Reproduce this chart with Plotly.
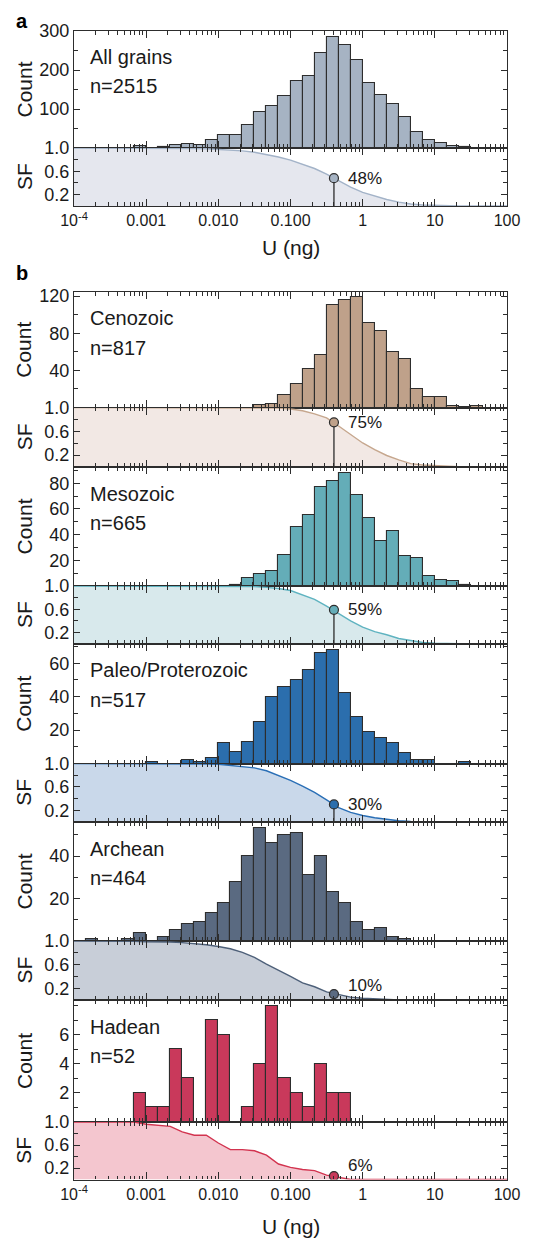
import numpy as np
import plotly.graph_objects as go

W, H = 545, 1240          # target picture size
PAGE_MARGIN = 8           # default body margin of the html page
FW, FH = W - 2 * PAGE_MARGIN, H - PAGE_MARGIN

# ---------------- data ----------------
bin_start_log10 = -4          # first bin edge = 1e-4 ng
bins_per_decade = 6
threshold_ng = 0.4

names = ["All grains", "Cenozoic", "Mesozoic", "Paleo/Proterozoic", "Archean", "Hadean"]
n_grains = [2515, 817, 665, 517, 464, 52]
sf_at_threshold_pct = [48, 75, 59, 30, 10, 6]

# histogram counts; first_bin = index of first listed bin (bin i spans 10^(-4+i/6)..10^(-4+(i+1)/6))
all_first = 5
all_counts = [5, 1, 2, 8, 11, 8, 21, 34, 34, 58, 92, 108, 134, 173, 184, 243, 284, 264,
              225, 166, 136, 114, 80, 42, 20, 14, 5, 2, 1]
ceno_first = 15
ceno_counts = [3, 4, 13, 25, 42, 57, 111, 116, 119, 91, 82, 60, 52, 20, 11, 11, 2, 1, 2]
meso_first = 13
meso_counts = [1, 6, 9, 12, 24, 46, 55, 77, 82, 88, 71, 53, 35, 43, 23, 22, 8, 5, 4, 1]
paleo_first = 6
paleo_counts = [1, 0, 0, 2, 1, 3, 12, 7, 13, 25, 40, 46, 50, 56, 66, 68, 42, 28, 19, 15,
                12, 6, 2, 2, 0, 0, 1]
arch_first = 1
arch_counts = [1, 0, 0, 1, 4, 0, 2, 5, 8, 9, 13, 18, 28, 40, 53, 46, 50, 51, 31, 40, 23,
               18, 9, 5, 6, 2, 1]
had_first = 5
had_counts = [2, 1, 1, 5, 3, 0, 7, 6, 0, 1, 4, 8, 3, 2, 1, 4, 2, 2]

firsts = [all_first, ceno_first, meso_first, paleo_first, arch_first, had_first]
counts_list = [all_counts, ceno_counts, meso_counts, paleo_counts, arch_counts, had_counts]

x_tick_vals = [1e-4, 1e-3, 1e-2, 1e-1, 1, 10, 100]
x_tick_text = ["10<sup>-4</sup>", "0.001", "0.010", "0.100", "1", "10", "100"]

count_tickvals = [[100, 200, 300], [40, 80, 120], [20, 40, 60, 80], [20, 40, 60], [20, 40], [2, 4, 6]]
count_minor = [50, 20, 10, 10, 10, 1]
count_top = [300, 124.5, 92.6, 71.5, 56, 8.4]

# ---------------- style ----------------
bar_colors = ["#a6b3c3", "#bfa18a", "#64adb8", "#2b6ead", "#5a6a81", "#c9395b"]
fill_colors = ["#e5e7ee", "#f2e8e4", "#d8e9ec", "#c9d8ea", "#c8ced8", "#f4c6cf"]
line_colors = ["#a3b3c8", "#c6a78e", "#5fb3c0", "#2a6fb6", "#4e6079", "#d2334f"]
frame = "#2d2d2d"
txt = "#1a1a1a"
FONT = "Liberation Sans, Arial, Helvetica, sans-serif"

# pixel layout in the target picture (top of count, boundary, bottom of SF)
count_tops = [31, 292, 467, 644, 822, 1000]
count_bots = [148, 407.5, 586, 763.5, 941, 1122]
sf_bots = [206, 467, 644, 822, 1000, 1179.5]
X_L, X_R = 74, 507


def px(p):
    return (p - PAGE_MARGIN) / FW


def py(p):
    return 1 - (p - PAGE_MARGIN) / FH


fig = go.Figure()
lx_thr = np.log10(threshold_ng)
maj = [np.log10(v) for v in x_tick_vals]
minor_x = [d + np.log10(k) for d in range(-4, 2) for k in range(2, 10)]

annotations = []
for p in range(6):
    kc = 2 * p + 1
    ks = 2 * p + 2
    first = firsts[p]
    cnt = np.array(counts_list[p], dtype=float)
    idx = np.arange(first, first + len(cnt))
    centers = bin_start_log10 + (idx + 0.5) / bins_per_decade

    fig.add_trace(go.Bar(
        x=centers, y=cnt, width=1.0 / bins_per_decade,
        marker=dict(color=bar_colors[p], line=dict(color=frame, width=1.1)),
        xaxis=f"x{kc}", yaxis=f"y{kc}", showlegend=False, hoverinfo="skip"))

    # survival function from histogram at bin edges
    edges = bin_start_log10 + np.arange(first, first + len(cnt) + 1) / bins_per_decade
    sf = 1 - np.concatenate([[0], np.cumsum(cnt)]) / cnt.sum()
    xs = np.concatenate([[-4], edges, [2]])
    ys = np.concatenate([[1.0], sf, [0.0]])
    fig.add_trace(go.Scatter(
        x=xs, y=ys, mode="lines", line=dict(color=line_colors[p], width=1.4),
        fill="tozeroy", fillcolor=fill_colors[p],
        xaxis=f"x{ks}", yaxis=f"y{ks}", showlegend=False, hoverinfo="skip"))

    sfv = sf_at_threshold_pct[p] / 100.0
    fig.add_trace(go.Scatter(
        x=[lx_thr, lx_thr], y=[0, sfv], mode="lines",
        line=dict(color=frame, width=1.3),
        xaxis=f"x{ks}", yaxis=f"y{ks}", showlegend=False, hoverinfo="skip"))
    fig.add_trace(go.Scatter(
        x=[lx_thr], y=[sfv], mode="markers",
        marker=dict(size=9, color=bar_colors[p], line=dict(color=frame, width=1.2)),
        xaxis=f"x{ks}", yaxis=f"y{ks}", showlegend=False, hoverinfo="skip"))

    annotations.append(dict(
        x=lx_thr, y=max(sfv, 0.25), xref=f"x{ks}", yref=f"y{ks}",
        text=f"{sf_at_threshold_pct[p]}%", showarrow=False, xanchor="left",
        yanchor="middle", xshift=12, font=dict(size=17, color=txt, family=FONT)))

    # panel labels
    annotations.append(dict(
        x=px(88), y=py(count_tops[p] + 26.5), xref="paper", yref="paper",
        text=names[p], showarrow=False, xanchor="left", yanchor="middle",
        font=dict(size=20, color=txt, family=FONT)))
    annotations.append(dict(
        x=px(88), y=py(count_tops[p] + 55.5), xref="paper", yref="paper",
        text=f"n={n_grains[p]}", showarrow=False, xanchor="left", yanchor="middle",
        font=dict(size=20, color=txt, family=FONT)))

    # axis titles
    annotations.append(dict(
        x=px(24), y=py((count_tops[p] + count_bots[p]) / 2), xref="paper", yref="paper",
        text="Count", textangle=-90, showarrow=False, xanchor="center", yanchor="middle",
        font=dict(size=21, color=txt, family=FONT)))
    annotations.append(dict(
        x=px(24), y=py((count_bots[p] + sf_bots[p]) / 2), xref="paper", yref="paper",
        text="SF", textangle=-90, showarrow=False, xanchor="center", yanchor="middle",
        font=dict(size=21, color=txt, family=FONT)))

    xcommon = dict(
        domain=[px(X_L), px(X_R)], range=[-4, 2], showline=True, mirror="allticks",
        linecolor=frame, linewidth=1.3, ticks="inside", ticklen=7, tickwidth=1.2,
        tickcolor=frame, tickvals=maj, ticktext=x_tick_text, showgrid=False,
        zeroline=False, automargin=False, tickfont=dict(size=16, color=txt, family=FONT),
        minor=dict(tickvals=minor_x, ticks="inside", ticklen=3.5, tickwidth=1,
                   tickcolor=frame, showgrid=False))
    fig.layout[f"xaxis{kc}"] = dict(xcommon, anchor=f"y{kc}", showticklabels=False)
    fig.layout[f"xaxis{ks}"] = dict(xcommon, anchor=f"y{ks}",
                                    showticklabels=(p in (0, 5)))

    ycommon = dict(
        showline=True, mirror="allticks", linecolor=frame, linewidth=1.3,
        ticks="inside", ticklen=6, tickwidth=1.2, tickcolor=frame, showgrid=False,
        zeroline=False, automargin=False, tickfont=dict(size=18, color=txt, family=FONT))
    cmin = [v for v in np.arange(count_minor[p], count_top[p], count_minor[p])]
    fig.layout[f"yaxis{kc}"] = dict(
        ycommon, anchor=f"x{kc}", domain=[py(count_bots[p]), py(count_tops[p])],
        range=[0, count_top[p]], tickvals=count_tickvals[p],
        minor=dict(tickvals=cmin, ticks="inside", ticklen=3.5, tickwidth=1,
                   tickcolor=frame, showgrid=False))
    fig.layout[f"yaxis{ks}"] = dict(
        ycommon, anchor=f"x{ks}", domain=[py(sf_bots[p]), py(count_bots[p])],
        range=[0, 1.0], tickvals=[0.2, 0.6, 1.0], ticktext=["0.2", "0.6", "1.0"],
        minor=dict(tickvals=[0.4, 0.8], ticks="inside", ticklen=3.5, tickwidth=1,
                   tickcolor=frame, showgrid=False))

# x axis titles
for yc in (248, 1226):
    annotations.append(dict(
        x=px((X_L + X_R) / 2), y=py(yc), xref="paper", yref="paper", text="U (ng)",
        showarrow=False, xanchor="center", yanchor="middle",
        font=dict(size=21, color=txt, family=FONT)))

# panel letters
for letter, yc in (("a", 21), ("b", 273)):
    annotations.append(dict(
        x=px(14), y=py(yc), xref="paper", yref="paper", text=f"<b>{letter}</b>",
        showarrow=False, xanchor="left", yanchor="middle",
        font=dict(size=20, color="#000000", family=FONT)))

fig.update_layout(
    width=FW, height=FH, margin=dict(l=0, r=0, t=0, b=0, autoexpand=False),
    paper_bgcolor="white", plot_bgcolor="white", bargap=0,
    annotations=annotations, font=dict(family=FONT, color=txt))

fig.write_html("out.html")
